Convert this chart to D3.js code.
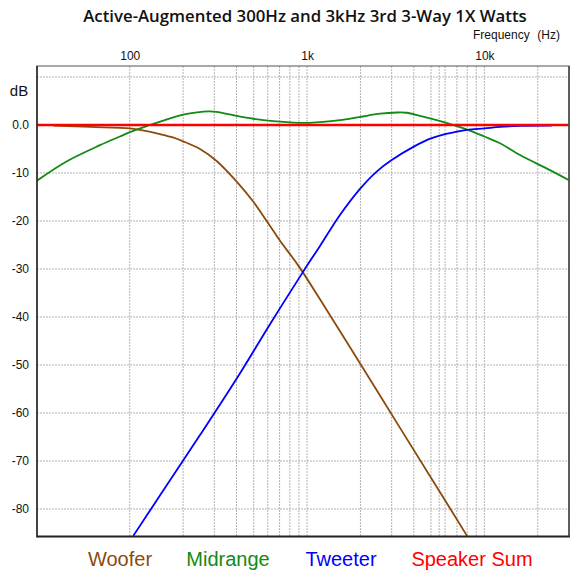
<!DOCTYPE html>
<html><head><meta charset="utf-8">
<script src="https://cdn.jsdelivr.net/npm/d3@7"></script>
<style>body{margin:0;background:#fff}svg{display:block}</style>
</head><body>
<svg id="c" width="578" height="575"></svg>
<script>
// ---- data ----
const title = "Active-Augmented 300Hz and 3kHz 3rd 3-Way 1X Watts";
const freqTicks = [100, 1000, 10000];
const freqTickLabels = ["100", "1k", "10k"];
const freqGrid = [100,200,300,400,500,600,700,800,900,1000,2000,3000,4000,5000,5560,6000,7000,8000,9000,10000,20000];
const dbTicks = [0,-10,-20,-30,-40,-50,-60,-70,-80];
const dbTickLabels = ["0.0","-10","-20","-30","-40","-50","-60","-70","-80"];
const dbGrid = [10,0,-10,-20,-30,-40,-50,-60,-70,-80];

const wooferF = [37,60,100,114,127,148,175,200,249,309,401,498,592,704,893,1183,1747,3343,5620,7982];
const wooferDb = [-0.15,-0.4,-0.7,-1.0,-1.35,-1.9,-2.6,-3.4,-5.0,-7.5,-11.8,-16.0,-20.0,-24.1,-29.3,-36.3,-46.3,-63.1,-76.5,-85.6];

const midF = [30,44,68,88,100,130,169,210,260,282,309,401,498,645,836,1000,1183,1533,2000,2579,3204,3648,4334,5382,6679,7946,10000,12246,15876,23445,30000];
const midDb = [-11.6,-7.6,-4.2,-2.4,-1.5,0,1.4,2.3,2.8,2.85,2.75,1.9,1.3,0.8,0.5,0.45,0.6,1.0,1.7,2.35,2.6,2.55,1.9,1.0,0,-0.9,-2.4,-3.8,-6.25,-9.4,-11.5];

const tweF = [104.7,148,249,419,618,949,1183,1533,2000,2469,3000,4000,5000,6000,7000,8000,10000,12246,15876,23967];
const tweDb = [-85.6,-77.2,-64.6,-51.7,-41.5,-30.6,-25.2,-18.75,-13.2,-9.7,-7.3,-4.5,-2.8,-1.9,-1.4,-1.0,-0.7,-0.4,-0.2,-0.15];

const sumF = [30,30000];
const sumDb = [0,0];

const legendNames = ["Woofer","Midrange","Tweeter","Speaker Sum"];
const colors = ["#8b4a0e","#138a13","#0000ff","#ff0000"];

// ---- drawing ----
const svg = d3.select("#c");
const L = 37, R = 569, T = 66, B = 536.5;
const x = d3.scaleLog().domain([30,30000]).range([L,R]);
const y = d3.scaleLinear().domain([-85.73,12.29]).range([B,T]);

svg.append("text").attr("x",305).attr("y",22).attr("text-anchor","middle")
  .attr("font-family","Open Sans, sans-serif").attr("font-weight",600).attr("font-size",16.8)
  .attr("fill","#111").text(title);
svg.append("text").attr("x",473).attr("y",39).attr("font-family","Liberation Sans, Arial, sans-serif")
  .attr("font-size",12).attr("fill","#111").text("Frequency");
svg.append("text").attr("x",560).attr("y",39).attr("text-anchor","end").attr("font-family","Liberation Sans, Arial, sans-serif")
  .attr("font-size",12).attr("fill","#111").text("(Hz)");

const g = svg.append("g");
// grid
g.selectAll("line.vg").data(freqGrid).join("line").attr("class","vg")
  .attr("x1",d=>x(d)).attr("x2",d=>x(d)).attr("y1",T).attr("y2",B)
  .attr("stroke","#b4b4b4").attr("stroke-width",1).attr("stroke-dasharray","2,1");
g.selectAll("line.hg").data(dbGrid).join("line").attr("class","hg")
  .attr("x1",L).attr("x2",R).attr("y1",d=>y(d)).attr("y2",d=>y(d))
  .attr("stroke","#b4b4b4").attr("stroke-width",1).attr("stroke-dasharray","2,1");

// top axis labels
const xAxis = d3.axisTop(x).tickValues(freqTicks).tickFormat((d,i)=>freqTickLabels[i]).tickSize(0).tickPadding(6);
const ax = svg.append("g").attr("transform",`translate(0,${T})`).call(xAxis);
ax.select(".domain").remove();
ax.selectAll("text").attr("font-family","Liberation Sans, Arial, sans-serif").attr("font-size",12).attr("fill","#111");

const yAxis = d3.axisLeft(y).tickValues(dbTicks).tickFormat((d,i)=>dbTickLabels[i]).tickSize(0).tickPadding(8);
const ay = svg.append("g").attr("transform",`translate(${L},0)`).call(yAxis);
ay.select(".domain").remove();
ay.selectAll("text").attr("font-family","Liberation Sans, Arial, sans-serif").attr("font-size",12).attr("fill","#111");
svg.append("text").attr("x",19).attr("y",96).attr("text-anchor","middle")
  .attr("font-family","Liberation Sans, Arial, sans-serif").attr("font-size",15).attr("fill","#111").text("dB");

// curves
svg.append("clipPath").attr("id","clp").append("rect").attr("x",L).attr("y",T).attr("width",R-L).attr("height",B-T);
const line = d3.line().x(d=>x(d[0])).y(d=>y(d[1])).curve(d3.curveCatmullRom.alpha(0.5));
const series = [[wooferF,wooferDb],[midF,midDb],[tweF,tweDb],[sumF,sumDb]];
const widths = [1.8,1.8,1.8,2.6];
[0,1,2,3].forEach(i=>{
  const pts = series[i][0].map((f,k)=>[f,series[i][1][k]]);
  svg.append("path").attr("d",line(pts)).attr("fill","none").attr("stroke",colors[i])
    .attr("stroke-width",widths[i]).attr("clip-path","url(#clp)");
});

// frame
svg.append("rect").attr("x",L).attr("y",T).attr("width",R-L).attr("height",B-T)
  .attr("fill","none").attr("stroke","#555").attr("stroke-width",1);
svg.append("line").attr("x1",L).attr("x2",L).attr("y1",T).attr("y2",B+1).attr("stroke","#222").attr("stroke-width",1.5);
svg.append("line").attr("x1",L).attr("x2",R+1).attr("y1",B).attr("y2",B).attr("stroke","#222").attr("stroke-width",2);
svg.append("line").attr("x1",R).attr("x2",R).attr("y1",T).attr("y2",B).attr("stroke","#444").attr("stroke-width",1.5);

// legend
const legendX = [120,228,341,472];
svg.selectAll("text.lg").data(legendNames).join("text").attr("class","lg")
  .attr("x",(d,i)=>legendX[i]).attr("y",566).attr("text-anchor","middle")
  .attr("font-family","Liberation Sans, Arial, sans-serif").attr("font-size",20)
  .attr("fill",(d,i)=>colors[i]).text(d=>d);
</script>
</body></html>
